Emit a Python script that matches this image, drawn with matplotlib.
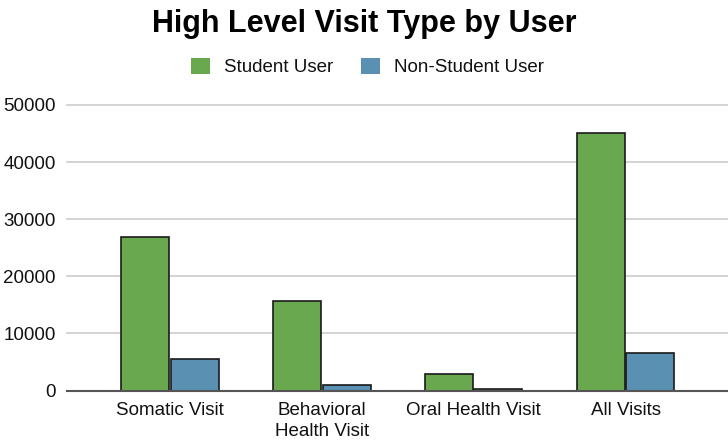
import matplotlib
matplotlib.use("Agg")
import matplotlib.pyplot as plt
import numpy as np

categories = ["Somatic Visit", "Behavioral\nHealth Visit", "Oral Health Visit", "All Visits"]
student = [26800, 15700, 2900, 45100]
non_student = [5600, 1000, 300, 6600]
series_names = ["Student User", "Non-Student User"]
yticks = [0, 10000, 20000, 30000, 40000, 50000]

green = "#6aa84f"
blue = "#5a90b1"

plt.rcParams['font.family'] = ['Liberation Sans', 'DejaVu Sans']

fig = plt.figure(figsize=(7.28, 4.42), dpi=100)
ax = fig.add_axes([67/728, 1-390.5/442, 1-67/728, (390.5-105)/442])

x = np.arange(len(categories))
w = 0.316
ax.bar(x - w/2 - 0.005, student, width=w, color=green, edgecolor="#1a1a1a", linewidth=1.2, label=series_names[0], zorder=3)
ax.bar(x + w/2 + 0.005, non_student, width=w, color=blue, edgecolor="#1a1a1a", linewidth=1.2, label=series_names[1], zorder=3)

ax.set_xlim(-0.678, 3.675)
ax.set_ylim(0, 50000)
ax.set_yticks(yticks)
ax.set_yticklabels([str(v) for v in yticks], fontsize=13.5, color="#111111")
ax.set_xticks(x)
ax.set_xticklabels(categories, fontsize=13.5, color="#111111", linespacing=1.3)
ax.tick_params(axis='both', length=0)
ax.tick_params(axis='y', pad=8)
ax.tick_params(axis='x', pad=8)
ax.grid(axis='y', color="#cccccc", linewidth=1.2, zorder=0)
for s in ['top', 'right', 'left']:
    ax.spines[s].set_visible(False)
ax.spines['bottom'].set_color("#555555")
ax.spines['bottom'].set_linewidth(1.5)
ax.spines['bottom'].set_zorder(4)
for gl in ax.get_ygridlines():
    gl.set_clip_on(False)

fig.text(0.5, 1-24/442, "High Level Visit Type by User", ha='center', va='center',
         fontsize=22, fontweight='bold', color='black')

fig.legend(loc='center', bbox_to_anchor=(0.505, 1-67/442), ncol=2, frameon=False,
           fontsize=13.5, handlelength=1.0, handleheight=1.0, handletextpad=0.75,
           columnspacing=1.5, labelcolor="#111111")
leg = fig.legends[0]
for h in leg.legend_handles:
    h.set_edgecolor('none')

fig.savefig("out.png", dpi=100)
